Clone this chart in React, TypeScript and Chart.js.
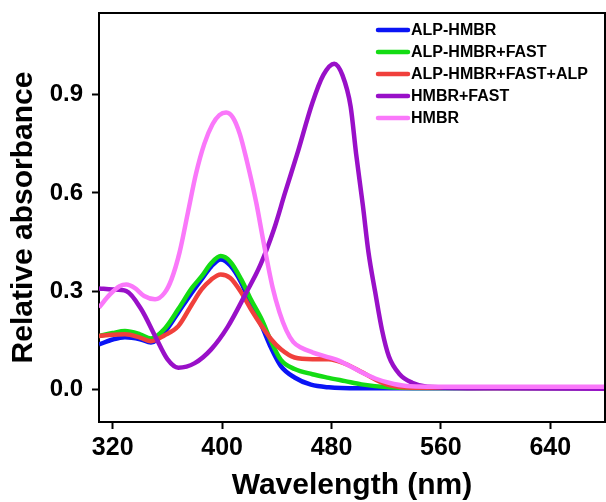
import React, { useEffect, useRef } from "react";
import { Chart, registerables } from "chart.js";

Chart.register(...registerables);

const xTicks = [320, 400, 480, 560, 640];
const yTicks = [0, 0.3, 0.6, 0.9];

const seriesNames = ["ALP-HMBR", "ALP-HMBR+FAST", "ALP-HMBR+FAST+ALP", "HMBR+FAST", "HMBR"];
const seriesColors = ["#0a14f5", "#14dc14", "#f0403c", "#9910c8", "#fa78fa"];

const blueWl = [310, 320, 329, 340, 348, 358, 368, 378, 385, 392, 399, 406, 414, 421, 429, 436, 443, 453, 465, 478, 500, 540, 600, 680];
const blueAbs = [0.137, 0.152, 0.159, 0.153, 0.143, 0.175, 0.235, 0.296, 0.336, 0.375, 0.397, 0.378, 0.326, 0.26, 0.193, 0.125, 0.071, 0.036, 0.014, 0.006, 0.003, 0.003, 0.004, 0.003];

const greenWl = [310, 320, 329, 340, 348, 358, 368, 378, 385, 392, 399, 406, 414, 421, 429, 436, 443, 453, 466, 478, 490, 502, 522, 540, 600, 680];
const greenAbs = [0.163, 0.172, 0.178, 0.168, 0.155, 0.185, 0.245, 0.31, 0.345, 0.385, 0.407, 0.39, 0.336, 0.275, 0.213, 0.145, 0.09, 0.062, 0.046, 0.035, 0.025, 0.015, 0.006, 0.004, 0.004, 0.004];

const redWl = [310, 320, 329, 340, 348, 358, 368, 378, 385, 392, 399, 406, 414, 421, 429, 436, 443, 453, 466, 478, 490, 502, 512, 522, 540, 600, 680];
const redAbs = [0.163, 0.167, 0.168, 0.158, 0.147, 0.165, 0.193, 0.26, 0.305, 0.335, 0.351, 0.34, 0.296, 0.245, 0.193, 0.152, 0.122, 0.097, 0.092, 0.092, 0.078, 0.053, 0.03, 0.013, 0.005, 0.004, 0.004];

const purpleWl = [310, 320, 330, 341, 351, 360, 368, 380, 392, 404, 417, 428, 438, 446, 455, 466, 474, 482, 488, 494, 498, 503, 507, 512, 517, 522, 530, 539, 550, 600, 680];
const purpleAbs = [0.308, 0.305, 0.3, 0.244, 0.163, 0.092, 0.066, 0.08, 0.122, 0.19, 0.29, 0.38, 0.49, 0.6, 0.72, 0.875, 0.96, 0.995, 0.96, 0.864, 0.72, 0.56, 0.42, 0.296, 0.18, 0.1, 0.045, 0.02, 0.008, 0.003, 0.002];

const pinkWl = [310, 318, 325, 330, 336, 343, 351, 358, 363, 369, 375, 381, 387, 393, 398, 403, 408, 413, 418, 425, 430, 437, 442, 447, 452, 458, 466, 476, 484, 493, 502, 512, 522, 535, 550, 600, 680];
const pinkAbs = [0.25, 0.29, 0.315, 0.32, 0.31, 0.285, 0.275, 0.295, 0.336, 0.42, 0.54, 0.66, 0.75, 0.81, 0.838, 0.846, 0.83, 0.78, 0.7, 0.57, 0.457, 0.31, 0.235, 0.18, 0.145, 0.127, 0.113, 0.1, 0.09, 0.072, 0.052, 0.033, 0.02, 0.01, 0.008, 0.008, 0.008];

const seriesWl = [blueWl, greenWl, redWl, purpleWl, pinkWl];
const seriesAbs = [blueAbs, greenAbs, redAbs, purpleAbs, pinkAbs];

const FONT = "'Liberation Sans', Arial, sans-serif";

export default function App() {
  const ref = useRef<HTMLCanvasElement | null>(null);

  useEffect(() => {
    document.body.style.margin = "0";
    const canvas = ref.current;
    if (!canvas) return;

    const datasets = seriesNames.map((name, i) => ({
      label: name,
      data: seriesWl[i].map((w, j) => ({ x: w, y: seriesAbs[i][j] })),
      borderColor: seriesColors[i],
      backgroundColor: seriesColors[i],
      borderWidth: 4.5,
      pointRadius: 0,
      cubicInterpolationMode: "monotone" as const,
      fill: false,
      order: seriesNames.length - i,
    }));

    const framePlugin = {
      id: "frameAndLegend",
      afterDraw(chart: any) {
        const { ctx, chartArea } = chart;
        ctx.save();
        ctx.strokeStyle = "#000";
        ctx.lineWidth = 2;
        ctx.beginPath();
        ctx.moveTo(chartArea.left, chartArea.top);
        ctx.lineTo(chartArea.right, chartArea.top);
        ctx.lineTo(chartArea.right, chartArea.bottom);
        ctx.stroke();
        // legend
        const lx0 = chartArea.left + 279;
        const lx1 = chartArea.left + 309;
        const ly0 = chartArea.top + 17;
        ctx.font = `bold 16px ${FONT}`;
        ctx.textBaseline = "middle";
        ctx.textAlign = "left";
        seriesNames.forEach((name, i) => {
          const y = ly0 + i * 22;
          ctx.strokeStyle = seriesColors[i];
          ctx.lineWidth = 4.5;
          ctx.lineCap = "round";
          ctx.beginPath();
          ctx.moveTo(lx0, y);
          ctx.lineTo(lx1, y);
          ctx.stroke();
          ctx.fillStyle = "#000";
          ctx.fillText(name, lx1 + 3, y + 1);
        });
        ctx.restore();
      },
    };

    const chart = new Chart(canvas, {
      type: "line",
      data: { datasets },
      plugins: [framePlugin],
      options: {
        animation: false,
        responsive: false,
        maintainAspectRatio: false,
        layout: { padding: { top: 13, right: 1, left: 0, bottom: 0 } },
        plugins: { legend: { display: false }, tooltip: { enabled: false } },
        scales: {
          x: {
            type: "linear",
            min: 310,
            max: 680,
            afterBuildTicks: (s: any) => {
              s.ticks = xTicks.map((v) => ({ value: v }));
            },
            afterFit: (s: any) => {
              s.height = 80;
              s.paddingLeft = 0;
              s.paddingRight = 0;
            },
            ticks: {
              color: "#000",
              font: { family: FONT, size: 25, weight: "bold" },
              padding: 4,
              maxRotation: 0,
              autoSkip: false,
              callback: (v: any) => String(v),
            },
            grid: { display: true, drawOnChartArea: false, drawTicks: true, tickLength: 7, tickWidth: 2, tickColor: "#000" },
            border: { display: true, color: "#000", width: 2 },
            title: {
              display: true,
              text: "Wavelength (nm)",
              color: "#000",
              font: { family: FONT, size: 30, weight: "bold", lineHeight: 1.0 },
              padding: { top: 0, bottom: 1 },
            },
          },
          y: {
            type: "linear",
            min: -0.1,
            max: 1.15,
            afterBuildTicks: (s: any) => {
              s.ticks = yTicks.map((v) => ({ value: v }));
            },
            afterFit: (s: any) => {
              s.width = 99;
              s.paddingTop = 0;
              s.paddingBottom = 0;
            },
            ticks: {
              color: "#000",
              font: { family: FONT, size: 24, weight: "bold" },
              padding: 9,
              autoSkip: false,
              callback: (v: any) => Number(v).toFixed(1),
            },
            grid: { display: true, drawOnChartArea: false, drawTicks: true, tickLength: 7, tickWidth: 2, tickColor: "#000" },
            border: { display: true, color: "#000", width: 2 },
            title: {
              display: true,
              text: "Relative absorbance",
              color: "#000",
              font: { family: FONT, size: 30, weight: "bold", lineHeight: 1.2 },
              padding: { top: 6, bottom: 0 },
            },
          },
        },
      },
    });

    return () => chart.destroy();
  }, []);

  return (
    <div style={{ width: 606, height: 502, position: "relative" }}>
      <canvas ref={ref} width={606} height={502} style={{ display: "block" }} />
    </div>
  );
}
